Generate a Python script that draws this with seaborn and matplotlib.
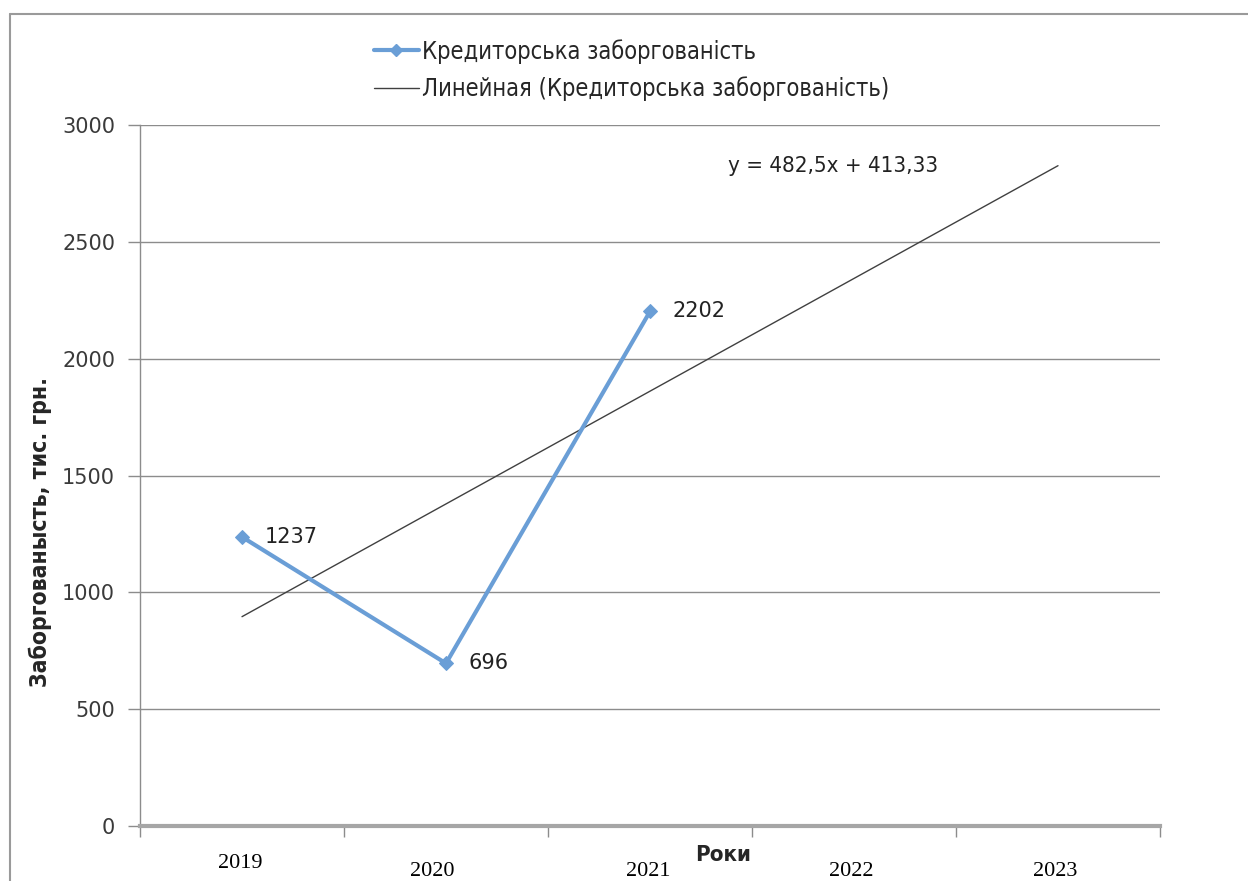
import matplotlib
matplotlib.use("Agg")
import matplotlib.pyplot as plt
import matplotlib.transforms as mtransforms
from matplotlib.lines import Line2D
import seaborn as sns
import numpy as np
import pandas as pd

# ---- data ----
years = ["2019", "2020", "2021", "2022", "2023"]
series_x = [1, 2, 3]
series_values = [1237, 696, 2202]
series_name = "Кредиторська заборгованість"
trend_name = "Линейная (Кредиторська заборгованість)"
trend_slope = 482.5
trend_intercept = 413.33
trend_x = [1, 2, 3, 4, 5]
equation_text = "y = 482,5x + 413,33"
y_ticks = [0, 500, 1000, 1500, 2000, 2500, 3000]
x_title = "Роки"
y_title = "Заборгованысть, тис. грн."

sns.set_theme(style="white")
plt.rcParams['font.family'] = ['DejaVu Sans']

W, H = 1248, 881
fig = plt.figure(figsize=(W / 100, H / 100), dpi=100)
ax = fig.add_axes([140 / W, 55 / H, 1020 / W, 701 / H])

df = pd.DataFrame({"x": series_x, "y": series_values})
trend_df = pd.DataFrame({"x": trend_x,
                         "y": [trend_slope * v + trend_intercept for v in trend_x]})

blue = "#6A9ED6"
sns.lineplot(data=trend_df, x="x", y="y", ax=ax, color="#404040", lw=1.0, zorder=3)
sns.lineplot(data=df, x="x", y="y", ax=ax, color=blue, lw=3, marker="D",
             markersize=7, markeredgecolor=blue, zorder=4)

ax.set_xlim(0.5, 5.5)
ax.set_ylim(0, 3000)
ax.set_yticks(y_ticks)
ax.set_yticklabels([str(t) for t in y_ticks], fontsize=15, color="#3a3a3a")
ax.set_xticks(np.arange(0.5, 5.6, 1.0))
ax.set_xticklabels([])
ax.set_xlabel("")
ax.set_ylabel("")
ax.grid(axis="y", color="#8c8c8c", lw=1)
ax.grid(axis="x", visible=False)
ax.tick_params(axis="y", which="major", left=True, length=9, width=1, color="#8c8c8c", pad=9)
ax.tick_params(axis="x", which="major", bottom=True, length=8, width=1, color="#8c8c8c")
for s in ["top", "right"]:
    ax.spines[s].set_visible(False)
ax.spines["left"].set_color("#8c8c8c")
ax.spines["left"].set_linewidth(1)
ax.spines["bottom"].set_color("#a6a6a6")
ax.spines["bottom"].set_linewidth(3)

# data labels
for xv, yv in zip(series_x, series_values):
    ax.annotate(str(yv), (xv, yv), xytext=(16, 0), textcoords="offset points",
                va="center", ha="left", fontsize=15, color="#222222")

# equation
ax.text(3.38, 2825, equation_text, fontsize=16, color="#222222",
        family="DejaVu Sans", fontstretch="condensed", va="center", ha="left")

# year labels (serif, below axis)
trans = mtransforms.blended_transform_factory(ax.transData, fig.transFigure)
year_offsets_y = [864, 871, 871, 871, 871]
year_offsets_x = [-0.01, -0.065, -0.01, -0.015, -0.015]
for i, yr in enumerate(years):
    fig.text(i + 1 + year_offsets_x[i], 1 - year_offsets_y[i] / H, yr, transform=trans,
             ha="center", va="center", fontsize=16, family="Liberation Serif", color="black")

# axis titles
fig.text(723 / W, 1 - 855 / H, x_title, ha="center", va="center", fontsize=16,
         fontweight="bold", family="DejaVu Sans", fontstretch="condensed")
fig.text(40 / W, 1 - 532 / H, y_title, ha="center", va="center", rotation=90,
         fontsize=16.5, fontweight="bold", family="DejaVu Sans", fontstretch="condensed")

# legend
handles = [Line2D([], [], color=blue, lw=3, marker="D", markersize=6),
           Line2D([], [], color="#404040", lw=1.0)]
leg = fig.legend(handles, [series_name, trend_name], loc="upper left",
                 bbox_to_anchor=(374 / W, 1 - 39 / H), frameon=False,
                 prop={"family": "DejaVu Sans", "stretch": "condensed", "size": 17},
                 handlelength=1.9, handletextpad=0.15, labelspacing=0.55,
                 borderpad=0, borderaxespad=0)

# chart frame
fig.add_artist(Line2D([10 / W, 1], [1 - 14 / H, 1 - 14 / H], transform=fig.transFigure,
                      color="#9a9a9a", lw=1.5))
fig.add_artist(Line2D([10 / W, 10 / W], [0, 1 - 14 / H], transform=fig.transFigure,
                      color="#9a9a9a", lw=1.5))

fig.savefig("out.png", dpi=100)
